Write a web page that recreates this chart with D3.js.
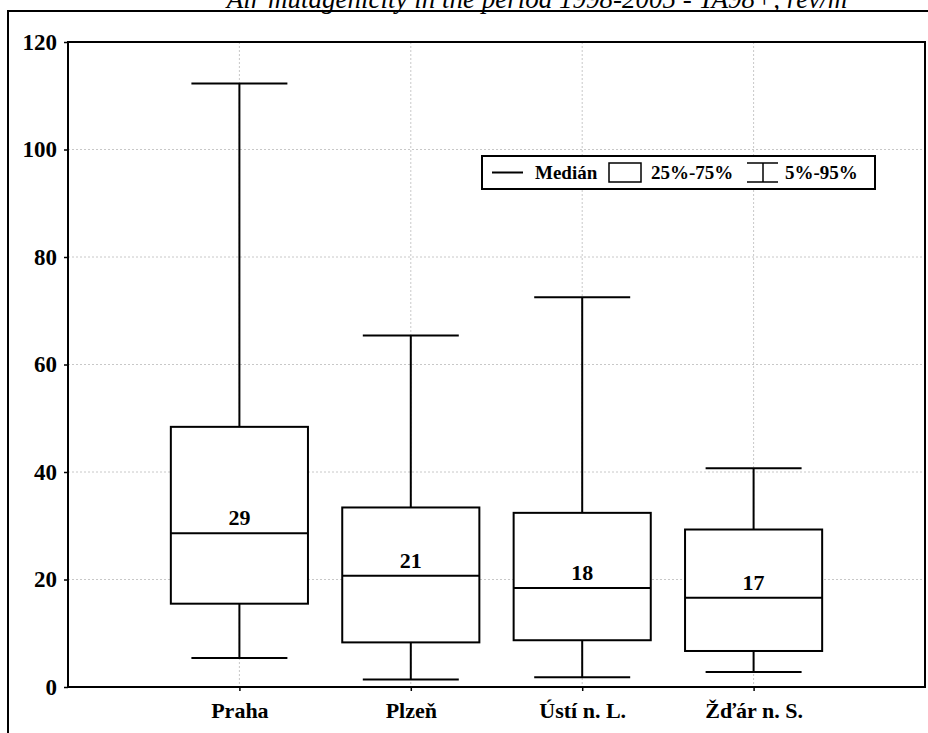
<!DOCTYPE html>
<html>
<head>
<meta charset="utf-8">
<script src="https://cdn.jsdelivr.net/npm/d3@7"></script>
<style>
  body { margin: 0; background: #fff; }
  svg { display: block; font-family: "Liberation Serif", "Times New Roman", serif; }
</style>
</head>
<body>
<svg width="928" height="733"></svg>
<script>
// Data
const categories = ['Praha', 'Plzeň', 'Ústí n. L.', 'Žďár n. S.']
const p5 = [5.4, 1.4, 1.8, 2.8]
const q1 = [15.5, 8.3, 8.7, 6.7]
const median = [28.6, 20.7, 18.4, 16.6]
const q3 = [48.4, 33.4, 32.4, 29.3]
const p95 = [112.3, 65.4, 72.5, 40.7]
const yTicks = [0, 20, 40, 60, 80, 100, 120]

const rows = categories.map((c, i) => ({
    name: c, p5: p5[i], q1: q1[i], med: median[i], q3: q3[i], p95: p95[i]
}))

// Set up
const svg = d3.select('svg')
const plot = { left: 68, top: 42, right: 925, bottom: 687 }

const x = d3.scalePoint()
    .domain(categories)
    .range([plot.left, plot.right])
    .padding(1)

const y = d3.scaleLinear()
    .domain([0, 120])
    .range([plot.bottom, plot.top])

const step = x.step()
const boxW = step * 0.8
const capW = step * 0.56

// outer frame
svg.append('rect')
    .attr('x', 8).attr('y', 11)
    .attr('width', 940).attr('height', 740)
    .attr('fill', 'none')
    .attr('stroke', '#000')
    .attr('stroke-width', 2)

// title (cut off at the top as in the original)
svg.append('text')
    .attr('x', 537).attr('y', 8)
    .attr('text-anchor', 'middle')
    .style('font-style', 'italic')
    .style('font-size', '27px')
    .text('Air mutagenicity in the period 1998-2005 - TA98+, rev/m')

// grid
svg.append('g')
    .selectAll('line')
    .data(yTicks.filter(d => d > 0 && d < 120))
    .join('line')
    .attr('x1', plot.left).attr('x2', plot.right)
    .attr('y1', d => y(d)).attr('y2', d => y(d))
    .attr('stroke', '#c8c8c8')
    .attr('stroke-dasharray', '2,2')

svg.append('g')
    .selectAll('line')
    .data(categories)
    .join('line')
    .attr('x1', d => x(d)).attr('x2', d => x(d))
    .attr('y1', plot.top).attr('y2', plot.bottom)
    .attr('stroke', '#c8c8c8')
    .attr('stroke-dasharray', '2,2')

// axes
const yAxis = svg.append('g')
    .attr('transform', `translate(${plot.left},0)`)
    .call(d3.axisLeft(y).tickValues(yTicks).tickSize(4).tickPadding(7))
yAxis.select('.domain').remove()
yAxis.selectAll('line').attr('stroke', '#000').attr('stroke-width', 1.5)
yAxis.selectAll('text')
    .attr('fill', '#000')
    .style('font-family', '"Liberation Serif", serif')
    .style('font-weight', 'bold')
    .style('font-size', '23px')

const xAxis = svg.append('g')
    .attr('transform', `translate(0,${plot.bottom})`)
    .call(d3.axisBottom(x).tickSize(4).tickPadding(11))
xAxis.select('.domain').remove()
xAxis.selectAll('line').attr('stroke', '#000').attr('stroke-width', 1.5)
xAxis.selectAll('text')
    .attr('fill', '#000')
    .style('font-family', '"Liberation Serif", serif')
    .style('font-weight', 'bold')
    .style('font-size', '22px')

// boxes
const g = svg.append('g')
    .selectAll('g')
    .data(rows)
    .join('g')
    .attr('stroke', '#000')
    .attr('stroke-width', 2)

g.append('line') // whisker
    .attr('x1', d => x(d.name)).attr('x2', d => x(d.name))
    .attr('y1', d => y(d.p5)).attr('y2', d => y(d.p95))

g.append('line') // lower cap
    .attr('x1', d => x(d.name) - capW / 2).attr('x2', d => x(d.name) + capW / 2)
    .attr('y1', d => y(d.p5)).attr('y2', d => y(d.p5))

g.append('line') // upper cap
    .attr('x1', d => x(d.name) - capW / 2).attr('x2', d => x(d.name) + capW / 2)
    .attr('y1', d => y(d.p95)).attr('y2', d => y(d.p95))

g.append('rect')
    .attr('x', d => x(d.name) - boxW / 2)
    .attr('width', boxW)
    .attr('y', d => y(d.q3))
    .attr('height', d => y(d.q1) - y(d.q3))
    .attr('fill', '#fff')

g.append('line') // median
    .attr('x1', d => x(d.name) - boxW / 2).attr('x2', d => x(d.name) + boxW / 2)
    .attr('y1', d => y(d.med)).attr('y2', d => y(d.med))

g.append('text')
    .attr('x', d => x(d.name))
    .attr('y', d => y(d.med) - 8)
    .attr('text-anchor', 'middle')
    .attr('stroke', 'none')
    .attr('fill', '#000')
    .style('font-weight', 'bold')
    .style('font-size', '22px')
    .text(d => Math.round(d.med))

// plot frame
svg.append('rect')
    .attr('x', plot.left).attr('y', plot.top)
    .attr('width', plot.right - plot.left)
    .attr('height', plot.bottom - plot.top)
    .attr('fill', 'none')
    .attr('stroke', '#000')
    .attr('stroke-width', 2)

// legend
const lg = svg.append('g')
    .attr('transform', 'translate(482,156)')
    .style('font-weight', 'bold')
    .style('font-size', '19px')

lg.append('rect')
    .attr('width', 393).attr('height', 33)
    .attr('fill', '#fff').attr('stroke', '#000').attr('stroke-width', 2)

lg.append('line')
    .attr('x1', 10).attr('x2', 41).attr('y1', 16.5).attr('y2', 16.5)
    .attr('stroke', '#000').attr('stroke-width', 2)
lg.append('text').attr('x', 53).attr('y', 23).text('Medián')

lg.append('rect')
    .attr('x', 127).attr('y', 7).attr('width', 32).attr('height', 19)
    .attr('fill', '#fff').attr('stroke', '#000').attr('stroke-width', 1.5)
lg.append('text').attr('x', 169).attr('y', 23).text('25%-75%')

const wk = lg.append('g').attr('stroke', '#000').attr('stroke-width', 1.5)
wk.append('line').attr('x1', 265).attr('x2', 296).attr('y1', 7).attr('y2', 7)
wk.append('line').attr('x1', 265).attr('x2', 296).attr('y1', 26).attr('y2', 26)
wk.append('line').attr('x1', 281).attr('x2', 281).attr('y1', 7).attr('y2', 26)
lg.append('text').attr('x', 303).attr('y', 23).text('5%-95%')
</script>
</body>
</html>
